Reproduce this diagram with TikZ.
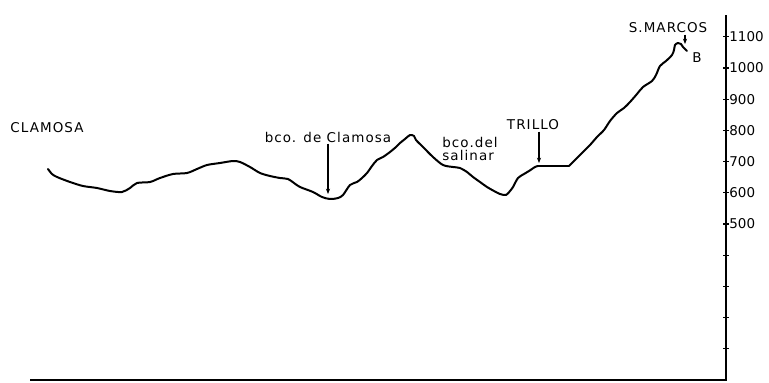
\documentclass[tikz,border=0pt]{standalone}
\usepackage{fontspec}
\setmainfont{DejaVu Sans}
\newfontfamily\placefont[LetterSpace=8]{DejaVu Sans}
\usetikzlibrary{arrows.meta}
\usetikzlibrary{positioning}

\tikzset{
  profile/.style={line width=1.7pt, line join=round, line cap=round},
  pointer/.style={-{Stealth[length=4.5pt, width=3.5pt]}, line width=0.9pt},
  place/.style={font=\placefont\fontsize{11.5}{12}\selectfont, inner sep=1pt},
  height/.style={font=\fontsize{11.5}{12}\selectfont, anchor=west, inner sep=1pt}
}

\begin{document}
\begin{tikzpicture}[x=0.3mm, y=-0.3mm]
        \useasboundingbox (0,0) rectangle (769,382);
        % axis and base line
        \draw[line width=1.1pt] (30,380) -- (726,380) -- (726,15);
        \foreach \k in {1,...,11}
          \draw[line width=0.9pt] (723,380-31.2*\k) -- (729,380-31.2*\k);
        \foreach \k in {5,...,11}
          \node[height] at (728,380-31.2*\k) {\k00};
        % profile
        \draw[profile] plot[smooth, tension=0.5] coordinates {
          (48,169) (52,174) (57,177) (70,182) (83,186) (97,188) (110,191)
          (122,192) (130,188) (137,183) (150,182) (160,178) (173,174) (187,173)
          (197,169) (207,165) (220,163) (233,161) (240,162) (250,167) (260,173)
          (270,176) (280,178) (288,179) (294,183) (300,187) (313,192) (322,197)
          (330,199) (338,198) (343,195) (350,185) (357,182) (362,178) (367,173)
          (372,166) (377,160) (383,157) (390,152) (396,147) (400,143) (405,139)
          (410,135) (414,136) (416,140) (423,147) (433,157) (443,165) (453,167)
          (460,168) (467,172) (473,177) (480,182) (487,187) (494,191) (500,194)
          (506,195) (510,191) (513,187) (518,178) (524,174) (529,171) (535,167)
          (538,166)};
        \draw[profile] (538,166) -- (569,166);
        \draw[profile] plot[smooth, tension=0.5] coordinates {
          (569,166) (576,159) (583,152) (590,145) (597,137) (604,130) (610,121)
          (617,113) (624,108) (630,102) (637,94) (643,87) (652,81) (656,75)
          (660,66) (666,61) (672,55) (674,50) (675,45) (678,43) (681,44)
          (683,47) (687,51)};
        % names
        \node[place] (clamosa) at (47,128) {CLAMOSA};
        \node[place] (bcoclamosa) at (328,137) {bco. de Clamosa};
        \node[place, align=left, font=\placefont\fontsize{11.5}{11}\selectfont] (salinar) at (470,149) {bco.del\\salinar};
        \node[place] (trillo) at (533,125) {TRILLO};
        \node[place] (smarcos) at (668,28) {S.MARCOS};
        \node[place] (b) at (697,58) {B};
        \coordinate (bcopt) at (328,194);
        \coordinate (trillopt) at (539,163);
        \coordinate (smarcospt) at (685,44);
        \draw[pointer] (bcoclamosa.south -| bcopt) -- (bcopt);
        \draw[pointer] (trillo.south -| trillopt) -- (trillopt);
        \draw[pointer] (smarcos.south -| smarcospt) -- (smarcospt);
      \end{tikzpicture}
\end{document}
